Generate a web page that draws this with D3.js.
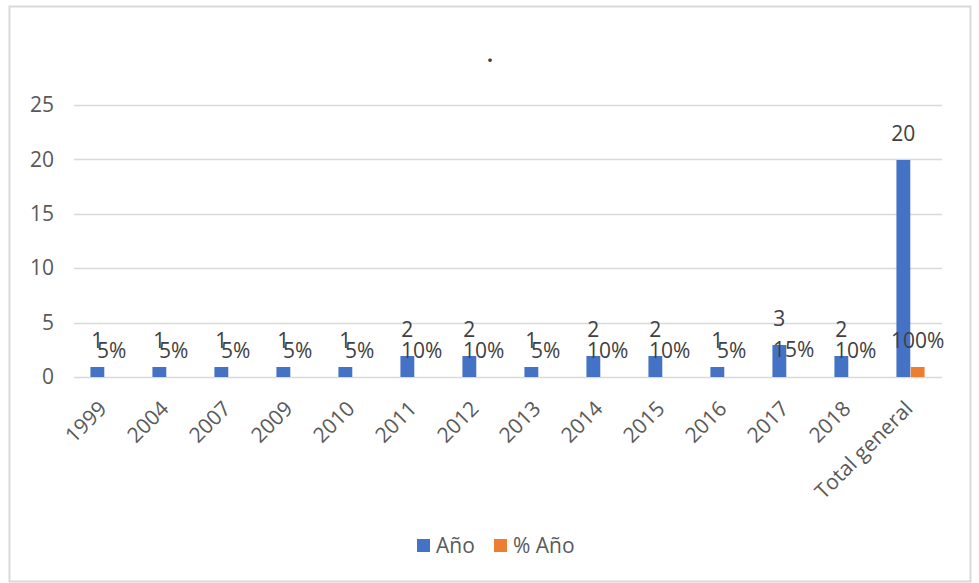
<!DOCTYPE html>
<html>
<head>
<meta charset="utf-8">
<script src="https://cdn.jsdelivr.net/npm/d3@7"></script>
<style>
  html, body { margin: 0; padding: 0; background: #fff; }
  svg { display: block; font-family: "Open Sans", "Noto Sans", sans-serif; }
</style>
</head>
<body>
<svg id="chart" width="979" height="583"></svg>
<script>
// Categories and series
const categories = ["1999", "2004", "2007", "2009", "2010", "2011", "2012", "2013", "2014", "2015", "2016", "2017", "2018", "Total general"];
const countValues = [1, 1, 1, 1, 1, 2, 2, 1, 2, 2, 1, 3, 2, 20];
const shareValues = [0.05, 0.05, 0.05, 0.05, 0.05, 0.10, 0.10, 0.05, 0.10, 0.10, 0.05, 0.15, 0.10, 1.00];
const seriesNames = ["Año", "% Año"];
const yTicks = [0, 5, 10, 15, 20, 25];

const colors = ["#4472C4", "#ED7D31"];
const textColor = "#595959";
const gridColor = "#d9d9d9";
const fontFamily = "'Open Sans', 'Noto Sans', sans-serif";
const fontSize = 21;

const svg = d3.select("#chart");

// chart frame
svg.append("rect")
  .attr("x", 9.5).attr("y", 6.5)
  .attr("width", 961).attr("height", 575)
  .attr("fill", "#fff")
  .attr("stroke", gridColor)
  .attr("stroke-width", 2);

const plot = { left: 74, right: 942, top: 105, bottom: 377 };

const x = d3.scaleBand()
  .domain(categories)
  .range([plot.left, plot.right]);

// two bars side by side around each category centre
const xs = d3.scaleBand()
  .domain(seriesNames)
  .range([x.bandwidth() / 2 - 15, x.bandwidth() / 2 + 14])
  .padding(0.03);

const y = d3.scaleLinear()
  .domain([0, 25])
  .range([plot.bottom, plot.top]);

// title
svg.append("text")
  .attr("x", 490).attr("y", 62)
  .attr("text-anchor", "middle")
  .attr("fill", "#404040")
  .attr("font-size", fontSize)
  .attr("font-weight", "bold")
  .text(".");

// gridlines
svg.append("g")
  .selectAll("line")
  .data(yTicks)
  .join("line")
  .attr("x1", plot.left).attr("x2", plot.right)
  .attr("y1", d => Math.round(y(d)) + 0.5)
  .attr("y2", d => Math.round(y(d)) + 0.5)
  .attr("stroke", gridColor)
  .attr("stroke-width", 1.5);

// y axis labels
const yAxis = d3.axisLeft(y).tickValues(yTicks).tickSize(0).tickPadding(0);
const yg = svg.append("g")
  .attr("transform", `translate(${plot.left - 20},0)`)
  .call(yAxis);
yg.select(".domain").remove();
yg.selectAll("text")
  .attr("fill", textColor)
  .attr("font-size", fontSize)
  .attr("font-family", fontFamily);

// x axis labels, rotated
const xAxis = d3.axisBottom(x).tickSize(0).tickPadding(0);
const xg = svg.append("g")
  .attr("transform", `translate(0,${plot.bottom})`)
  .call(xAxis);
xg.select(".domain").remove();
xg.selectAll("text")
  .attr("fill", textColor)
  .attr("font-size", fontSize)
  .attr("font-family", fontFamily)
  .attr("text-anchor", "end")
  .attr("dy", 0)
  .attr("transform", "translate(3,33) rotate(-45)");

// bars
const rows = categories.map((c, i) => ({
  cat: c,
  vals: [
    { s: seriesNames[0], v: countValues[i], label: String(countValues[i]) },
    { s: seriesNames[1], v: shareValues[i], label: Math.round(shareValues[i] * 100) + "%" }
  ]
}));

const groups = svg.append("g")
  .selectAll("g")
  .data(rows)
  .join("g")
  .attr("transform", d => `translate(${x(d.cat)},0)`);

// bars thinner than two pixels are not painted
const barHeight = d => {
  const h = Math.floor(y(0) - y(d.v));
  return h < 2 ? 0 : h;
};

groups.selectAll("rect")
  .data(d => d.vals)
  .join("rect")
  .attr("x", d => xs(d.s))
  .attr("width", xs.bandwidth())
  .attr("y", d => y(0) - barHeight(d))
  .attr("height", barHeight)
  .attr("fill", (d, i) => colors[i]);

// data labels
groups.selectAll("text")
  .data(d => d.vals)
  .join("text")
  .attr("x", d => xs(d.s) + xs.bandwidth() / 2)
  .attr("y", d => y(d.v) - 18)
  .attr("text-anchor", "middle")
  .attr("fill", "#404040")
  .attr("font-size", fontSize)
  .text(d => d.label);

// legend
const legend = svg.append("g").attr("transform", "translate(417,539)");
const legendItems = [
  { name: seriesNames[0], color: colors[0], dx: 0 },
  { name: seriesNames[1], color: colors[1], dx: 77 }
];
const li = legend.selectAll("g")
  .data(legendItems)
  .join("g")
  .attr("transform", d => `translate(${d.dx},0)`);
li.append("rect")
  .attr("width", 13).attr("height", 13)
  .attr("fill", d => d.color);
li.append("text")
  .attr("x", 19).attr("y", 14)
  .attr("fill", textColor)
  .attr("font-size", fontSize)
  .text(d => d.name);
</script>
</body>
</html>
